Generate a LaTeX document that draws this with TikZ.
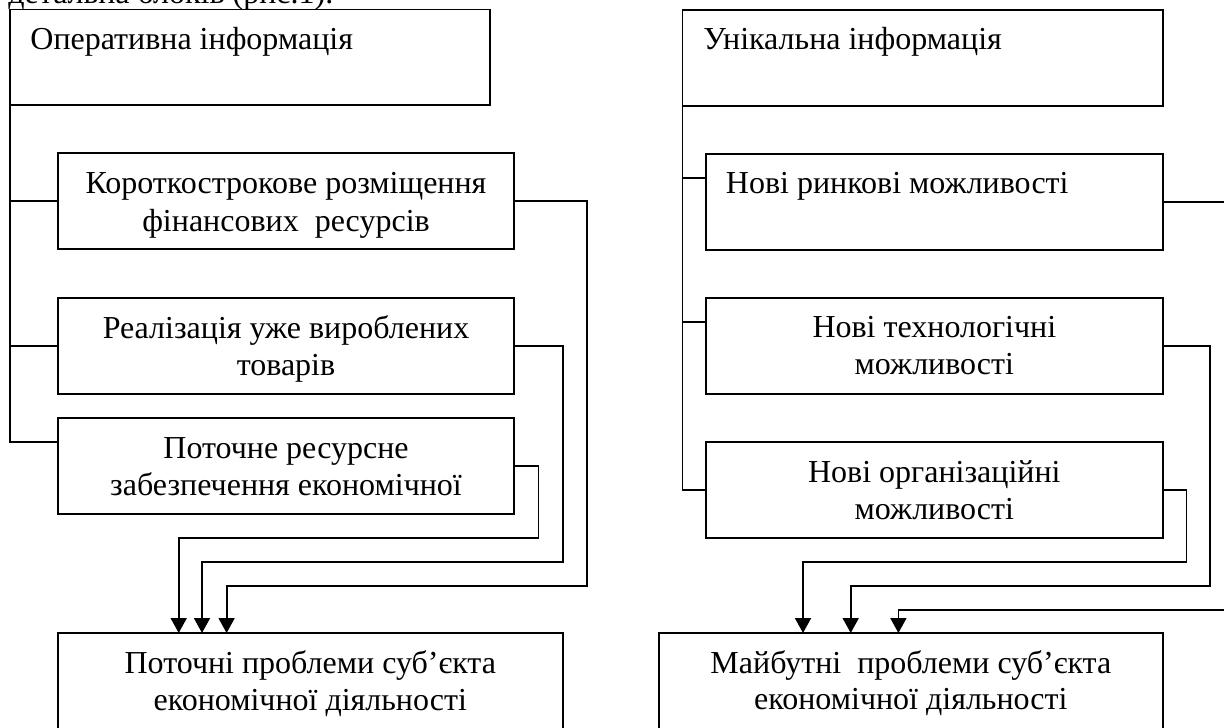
\documentclass[tikz,border=0pt]{standalone}
\usepackage{fontspec}
\setmainfont{Liberation Serif}
\usetikzlibrary{arrows.meta,calc}
\begin{document}
\begin{tikzpicture}[x=0.5pt,y=-0.5pt,
  box/.style={draw, line width=0.9pt, inner sep=0pt, outer sep=0pt},
  txt/.style={inner sep=0pt, font=\fontsize{16pt}{19pt}\selectfont},
  wire/.style={line width=0.9pt},
  flow/.style={wire, -{Triangle[length=7.5pt,width=8pt]}}
]
\useasboundingbox (0,0) rectangle (1224,727);

% running text line above the scheme
\node[txt, anchor=base west] (lead) at (8,4) {детальна блоків (рис.1).};

% left column: operational information
\node[box, minimum width=240pt, minimum height=47.75pt] (A)  at (250,57.25) {};
\node[box, minimum width=228pt, minimum height=48pt]    (B1) at (286,201) {};
\node[box, minimum width=228pt, minimum height=48pt]    (B2) at (286,346) {};
\node[box, minimum width=228pt, minimum height=48pt]    (B3) at (286,466) {};
\node[box, minimum width=252.3pt, minimum height=56pt]  (C)  at (310.3,689) {};

% right column: unique information
\node[box, minimum width=240.15pt, minimum height=48pt] (U)  at (922.55,58) {};
\node[box, minimum width=228.35pt, minimum height=48pt] (D1) at (934.35,202) {};
\node[box, minimum width=228.35pt, minimum height=48pt] (D2) at (934.35,346) {};
\node[box, minimum width=228.35pt, minimum height=48pt] (D3) at (934.35,490) {};
\node[box, minimum width=251.85pt, minimum height=56pt] (E)  at (910.85,689) {};

% box texts
\node[txt, anchor=base west] (tA)  at ($(A.north west)+(20,40.5)$) {Оперативна інформація};
\node[txt, anchor=base] (tB1a) at ($(B1.north)+(0,40)$) {Короткострокове розміщення};
\node[txt, anchor=base] (tB1b) at ($(B1.north)+(0,78)$) {фінансових\ \ ресурсів};
\node[txt, anchor=base] (tB2a) at ($(B2.north)+(0,40)$) {Реалізація уже вироблених};
\node[txt, anchor=base] (tB2b) at ($(B2.north)+(0,77)$) {товарів};
\node[txt, anchor=base] (tB3a) at ($(B3.north)+(0,40)$) {Поточне ресурсне};
\node[txt, anchor=base] (tB3b) at ($(B3.north)+(0,77)$) {забезпечення економічної};
\node[txt, anchor=base] (tCa)  at ($(C.north)+(0,40)$) {Поточні проблеми суб’єкта};
\node[txt, anchor=base] (tCb)  at ($(C.north)+(0,77)$) {економічної діяльності};

\node[txt, anchor=base west] (tU)  at ($(U.north west)+(20.5,40)$) {Унікальна інформація};
\node[txt, anchor=base west] (tD1) at ($(D1.north west)+(19.5,39)$) {Нові ринкові можливості};
\node[txt, anchor=base] (tD2a) at ($(D2.north)+(0,39)$) {Нові технологічні};
\node[txt, anchor=base] (tD2b) at ($(D2.north)+(0,76)$) {можливості};
\node[txt, anchor=base] (tD3a) at ($(D3.north)+(0,40)$) {Нові організаційні};
\node[txt, anchor=base] (tD3b) at ($(D3.north)+(0,77)$) {можливості};
\node[txt, anchor=base] (tEa)  at ($(E.north)+(0,40)$) {Майбутні\ \ проблеми суб’єкта};
\node[txt, anchor=base] (tEb)  at ($(E.north)+(0,76)$) {економічної діяльності};

% left trunk and branches
\coordinate (b3in) at ($(B3.north west)!0.25!(B3.south west)$);
\draw[wire] (A.south west) |- (b3in);
\draw[wire] (A.south west |- B1.west) -- (B1.west);
\draw[wire] (A.south west |- B2.west) -- (B2.west);

% right trunk and branches
\coordinate (d1in) at ($(D1.north west)!0.25!(D1.south west)$);
\coordinate (d2in) at ($(D2.north west)!0.25!(D2.south west)$);
\draw[wire] (U.south west) |- (D3.west);
\draw[wire] (U.south west |- d1in) -- (d1in);
\draw[wire] (U.south west |- d2in) -- (d2in);

% arrows into the current problems box
\coordinate (ca1) at ($(C.north west)+(120.7,0)$);
\coordinate (ca2) at ($(C.north west)+(144,0)$);
\coordinate (ca3) at ($(C.north west)+(168.6,0)$);
\draw[flow] (B1.east) -- ++(72.7,0) |- ($(ca3)+(0,-47.3)$) -- (ca3);
\draw[flow] (B2.east) -- ++(48.6,0) |- ($(ca2)+(0,-71.3)$) -- (ca2);
\draw[flow] (B3.east) -- ++(24.5,0) |- ($(ca1)+(0,-95.3)$) -- (ca1);

% arrows into the future problems box
\coordinate (ea1) at ($(E.north west)+(144,0)$);
\coordinate (ea2) at ($(E.north west)+(191.7,0)$);
\coordinate (ea3) at ($(E.north west)+(239.4,0)$);
\draw[flow] (D3.east) -- ++(23.8,0) |- ($(ea1)+(0,-71.3)$) -- (ea1);
\draw[flow] (D2.east) -- ++(47.3,0) |- ($(ea2)+(0,-47.3)$) -- (ea2);
\draw[flow] (D1.east) -- ++(80,0) |- ($(ea3)+(0,-23.3)$) -- (ea3);
\end{tikzpicture}
\end{document}
